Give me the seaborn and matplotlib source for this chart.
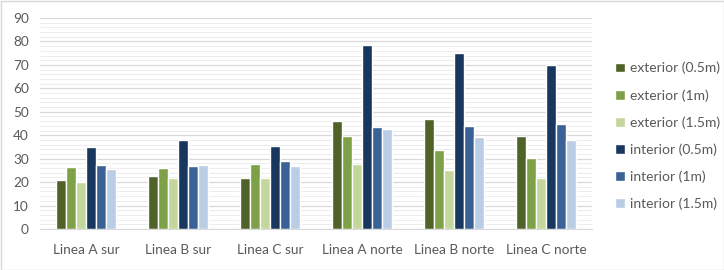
import numpy as np
import pandas as pd
import matplotlib
matplotlib.use('Agg')
import matplotlib.pyplot as plt
import seaborn as sns
from matplotlib.ticker import MultipleLocator

# data
lineas = ['Linea A sur', 'Linea B sur', 'Linea C sur', 'Linea A norte', 'Linea B norte', 'Linea C norte']
series = ['exterior (0.5m)', 'exterior (1m)', 'exterior (1.5m)', 'interior (0.5m)', 'interior (1m)', 'interior (1.5m)']
ext_05 = [21.0, 22.7, 21.6, 45.9, 46.8, 39.5]
ext_1 = [26.5, 25.9, 27.7, 39.8, 33.7, 30.3]
ext_15 = [20.0, 21.8, 21.6, 27.7, 25.2, 21.9]
int_05 = [35.0, 37.8, 35.5, 78.6, 75.1, 69.8]
int_1 = [27.4, 26.9, 29.1, 43.5, 43.9, 44.8]
int_15 = [25.7, 27.3, 26.9, 42.7, 39.1, 37.8]
colores = ['#4F6228', '#7EA046', '#C3D69B', '#17375E', '#3A6296', '#B9CDE5']

rows = []
for s, vals in zip(series, [ext_05, ext_1, ext_15, int_05, int_1, int_15]):
    for l, v in zip(lineas, vals):
        rows.append({'linea': l, 'serie': s, 'valor': v})
df = pd.DataFrame(rows)

sns.set_style('white')
plt.rcParams['font.family'] = ['Lato', 'DejaVu Sans']

fig = plt.figure(figsize=(7.24, 2.70), dpi=100)
ax = fig.add_axes([40/724, 41/270, 552/724, 211/270])
sns.barplot(data=df, x='linea', y='valor', hue='serie', order=lineas, hue_order=series,
            palette=colores, width=0.66, saturation=1, ax=ax, legend=True)

ax.set_ylim(0, 90)
ax.yaxis.set_major_locator(MultipleLocator(10))
ax.yaxis.set_minor_locator(MultipleLocator(2))
ax.grid(axis='y', which='major', color='#D9D9D9', lw=0.9)
ax.grid(axis='y', which='minor', color='#EDEDED', lw=0.7)
ax.set_axisbelow(True)
for sp in ['top', 'right', 'left']:
    ax.spines[sp].set_visible(False)
ax.spines['bottom'].set_color('#D9D9D9')
ax.set_xlabel('')
ax.set_ylabel('')
ax.tick_params(axis='both', which='both', length=0, labelsize=9.8, colors='#595959', pad=8)
ax.tick_params(axis='x', pad=11)

ax.legend(loc='center left', bbox_to_anchor=(615/724, 134/270), bbox_transform=fig.transFigure,
          frameon=False, fontsize=10, labelcolor='#595959', handlelength=0.7, handleheight=0.7,
          handletextpad=0.4, labelspacing=1.05, borderaxespad=0, borderpad=0)

fig.patches.append(plt.Rectangle((0.5/724, 0.5/270), 723/724, 269/270, transform=fig.transFigure,
                                 fill=False, edgecolor='#D9D9D9', lw=1))
fig.savefig('out.png', dpi=100)
